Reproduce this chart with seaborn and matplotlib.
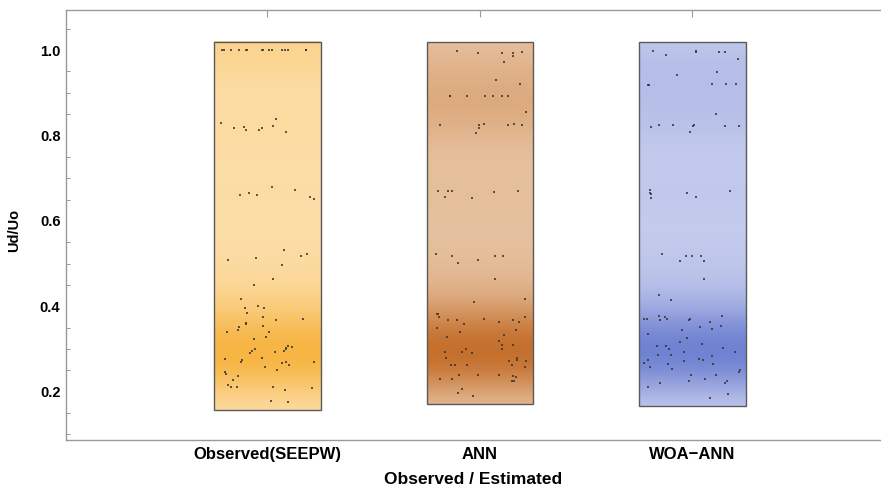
import numpy as np
import pandas as pd
import seaborn as sns
import matplotlib.pyplot as plt
from matplotlib.colors import LinearSegmentedColormap
from matplotlib.patches import Rectangle
from matplotlib.ticker import MultipleLocator

# values (Ud/Uo per case)
categories = ['Observed(SEEPW)', 'ANN', 'WOA\u2212ANN']

observed = [1.0, 1.0, 1.0, 1.0, 1.0, 1.0, 1.0, 1.0, 1.0, 1.0, 1.0, 1.0, 1.0, 1.0, 1.0,
            0.838, 0.829, 0.823, 0.821, 0.814, 0.814, 0.808, 0.817, 0.818,
            0.679, 0.673, 0.666, 0.661, 0.661, 0.656, 0.651,
            0.531, 0.523, 0.518, 0.513, 0.509, 0.497, 0.464, 0.451, 0.418, 0.401,
            0.396, 0.396, 0.384, 0.374, 0.371, 0.369, 0.361, 0.359, 0.353, 0.351,
            0.344, 0.341, 0.339, 0.329, 0.324, 0.306, 0.304, 0.302, 0.299, 0.299,
            0.296, 0.296, 0.292, 0.290, 0.280, 0.277, 0.275, 0.269, 0.269, 0.269,
            0.267, 0.262, 0.257, 0.252, 0.247, 0.242, 0.237, 0.227, 0.216, 0.211,
            0.211, 0.211, 0.208, 0.204, 0.179, 0.177]

ann = [0.998, 0.995, 0.993, 0.993, 0.993, 0.986, 0.973, 0.931, 0.921,
       0.893, 0.893, 0.893, 0.893, 0.893, 0.893, 0.893, 0.856,
       0.828, 0.828, 0.825, 0.825, 0.825, 0.825, 0.818, 0.806,
       0.671, 0.671, 0.669, 0.669, 0.667, 0.656, 0.654,
       0.523, 0.519, 0.519, 0.517, 0.509, 0.501, 0.464, 0.418, 0.411,
       0.381, 0.381, 0.374, 0.374, 0.371, 0.367, 0.367, 0.367, 0.364, 0.364,
       0.359, 0.349, 0.344, 0.339, 0.334, 0.329, 0.319, 0.309, 0.309, 0.299,
       0.299, 0.293, 0.293, 0.290, 0.280, 0.280, 0.275, 0.272, 0.272,
       0.262, 0.262, 0.262, 0.262, 0.259, 0.239, 0.239, 0.239, 0.237, 0.234,
       0.229, 0.229, 0.225, 0.225, 0.207, 0.196, 0.191]

woa_ann = [0.998, 0.998, 0.995, 0.995, 0.995, 0.988, 0.980, 0.948, 0.941,
           0.921, 0.921, 0.921, 0.918, 0.918, 0.851,
           0.825, 0.825, 0.825, 0.823, 0.823, 0.823, 0.821, 0.808,
           0.673, 0.669, 0.666, 0.666, 0.663, 0.656, 0.654,
           0.523, 0.519, 0.519, 0.517, 0.506, 0.506, 0.464, 0.426, 0.414,
           0.378, 0.378, 0.376, 0.371, 0.371, 0.371, 0.371, 0.369, 0.367, 0.364,
           0.353, 0.351, 0.347, 0.344, 0.336, 0.326, 0.316, 0.312, 0.306, 0.306,
           0.302, 0.299, 0.292, 0.292, 0.287, 0.285, 0.283, 0.277, 0.275, 0.275,
           0.272, 0.267, 0.264, 0.264, 0.259, 0.254, 0.252, 0.247, 0.239, 0.239,
           0.231, 0.225, 0.225, 0.220, 0.220, 0.211, 0.194, 0.186]

series = [observed, ann, woa_ann]
light_cols = ['#fde2b2', '#e9c9aa', '#cbd1ef']
dark_cols = ['#f7b544', '#c5702d', '#7082d2']

df = pd.DataFrame({
    'case': np.repeat(categories, [len(s) for s in series]),
    'value': np.concatenate(series),
})

sns.set_style('white')
plt.rcParams['font.family'] = ['Liberation Sans', 'DejaVu Sans']
plt.rcParams['font.weight'] = 'bold'
plt.rcParams['text.color'] = 'black'
plt.rcParams['axes.labelcolor'] = 'black'
plt.rcParams['xtick.labelcolor'] = 'black'
plt.rcParams['ytick.labelcolor'] = 'black'

fig = plt.figure(figsize=(8.81, 4.86), dpi=100)
ax = fig.add_axes([66 / 881, 46 / 486, 815 / 881, 430 / 486])

# density shaded boxes
bw = 0.065
half = 0.25
for i, vals in enumerate(series):
    v = np.array(vals)
    lo, hi = v.min() - 0.02, v.max() + 0.02
    grid = np.linspace(lo, hi, 400)
    dens = np.exp(-0.5 * ((grid[:, None] - v[None, :]) / bw) ** 2).sum(axis=1)
    dens = (dens / dens.max()) ** 1.5
    cmap = LinearSegmentedColormap.from_list('c%d' % i, [light_cols[i], dark_cols[i]])
    img = cmap(dens)[:, None, :]
    ax.imshow(img, origin='lower', extent=(i - half, i + half, lo, hi),
              aspect='auto', interpolation='bilinear', zorder=1)
    ax.add_patch(Rectangle((i - half, lo), 2 * half, hi - lo, fill=False,
                           ec='#5a5a5a', lw=1.0, zorder=2))

np.random.seed(3)
sns.stripplot(data=df, x='case', y='value', order=categories, jitter=0.23,
              marker='s', size=1.8, color='#333333', linewidth=0,
              alpha=0.8, ax=ax, zorder=3)

ax.set_xlim(-0.948, 2.887)
ax.set_ylim(0.087, 1.094)
ax.yaxis.set_major_locator(MultipleLocator(0.2))
ax.yaxis.set_minor_locator(MultipleLocator(0.05))

for side in ['left', 'bottom', 'top']:
    ax.spines[side].set_color('#9a9a9a')
    ax.spines[side].set_linewidth(1.0)
ax.spines['right'].set_visible(False)

ax.tick_params(axis='both', which='major', direction='in', length=5, width=0.8,
               color='#9a9a9a', top=True, labeltop=False)
ax.tick_params(axis='y', which='minor', direction='in', length=3, width=0.7,
               color='#9a9a9a', left=True)
ax.tick_params(axis='y', labelsize=10.5, pad=4, labelcolor='black')
ax.tick_params(axis='x', labelsize=12, pad=5, labelcolor='black')
for lab in ax.get_xticklabels() + ax.get_yticklabels():
    lab.set_fontweight('bold')

ax.set_xlabel('Observed / Estimated', fontsize=12.5, fontweight='bold',
              labelpad=7, color='black')
ax.set_ylabel('Ud/Uo', fontsize=10.5, fontweight='bold', color='black')
ax.yaxis.set_label_coords(-0.055, 0.487)

plt.savefig('out.png', dpi=100)
